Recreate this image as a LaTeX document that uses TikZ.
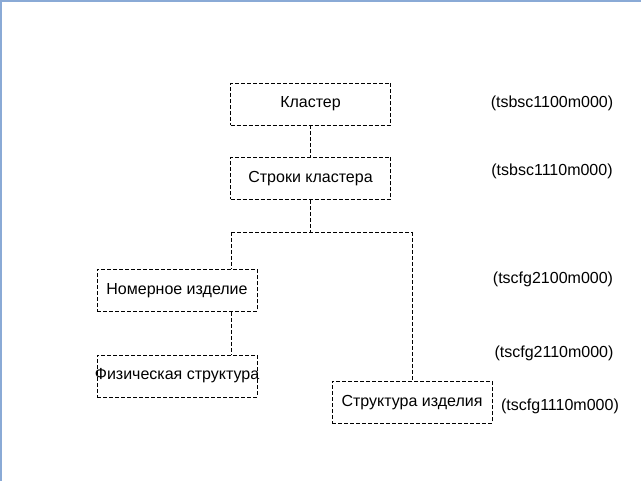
\documentclass[tikz,border=0pt]{standalone}
\usepackage{fontspec}
\setmainfont{Liberation Sans}
\usetikzlibrary{positioning}
\definecolor{frameblue}{RGB}{138,170,214}

\begin{document}
\begin{tikzpicture}[
  x=1pt, y=-1pt,
  every node/.style={font=\fontsize{16}{19}\selectfont},
  entity/.style={
    draw=black,
    dash pattern=on 4pt off 2pt,
    line width=0.9pt,
    minimum width=160pt,
    minimum height=42pt,
    inner sep=0pt
  },
  table code/.style={inner sep=0pt},
  link/.style={draw=black, dash pattern=on 4pt off 2pt, line width=0.9pt}
]
  \useasboundingbox (0,0) rectangle (641,481);
  \fill[frameblue] (0,0) rectangle (641,2.2);
  \fill[frameblue] (0,0) rectangle (2.2,481);

  \node[entity] (cluster) at (310.5,104) {Кластер};
  \node[entity] (cluster-rows) at (310.5,178.5) {Строки кластера};
  \node[entity] (item) at (177,290.5) {Номерное изделие};
  % text runs past the box edges here
  \node[entity] (phys-struct) at (177,376) {\makebox[0pt]{Физическая структура}};
  \node[entity] (item-struct) at (412,402.5) {Структура изделия};

  \coordinate (fork) at (310.5,232);
  \coordinate (fork-left) at (231,232);
  \coordinate (fork-right) at (412,232);

  \node[table code] (code-cluster) at (552,103) {(tsbsc1100m000)};
  \node[table code] (code-rows) at (552,171) {(tsbsc1110m000)};
  \node[table code] (code-item) at (553,279) {(tscfg2100m000)};
  \node[table code] (code-phys) at (554,353) {(tscfg2110m000)};
  \node[table code] (code-struct) at (560,406) {(tscfg1110m000)};

  \draw[link] (cluster)--(cluster-rows);
  \draw[link] (cluster-rows)--(fork);
  \draw[link] (fork-left)--(fork-right);
  \draw[link] (fork-left)--(item.north -| fork-left);
  \draw[link] (fork-right)--(item-struct);
  \draw[link] (item.south -| fork-left)--(phys-struct.north -| fork-left);
\end{tikzpicture}
\end{document}
